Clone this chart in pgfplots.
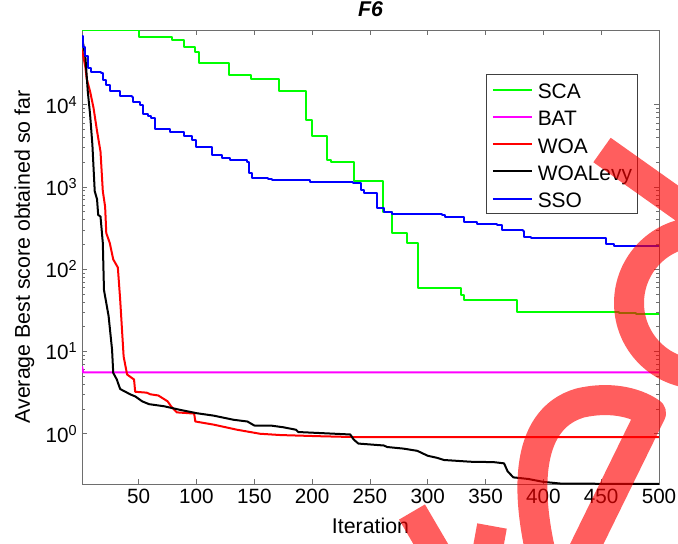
\documentclass[border=0pt]{standalone}
\usepackage{pgfplots}
\pgfplotsset{compat=1.18}
\usepackage{fontspec}
\setmainfont{Liberation Sans}

\definecolor{scacol}{RGB}{0,255,0}
\definecolor{batcol}{RGB}{255,0,255}
\definecolor{woacol}{RGB}{255,0,0}
\definecolor{levycol}{RGB}{0,0,0}
\definecolor{ssocol}{RGB}{0,0,255}
\definecolor{framecol}{RGB}{110,110,110}

% fixed-height legend rows
\newcommand\lentry[1]{\rule[-1.3pt]{0pt}{16.5pt}\smash{#1}}

\begin{document}
\begin{tikzpicture}
% canvas: 1px of the 678x543 layout = 0.75pt, origin at the top left corner
\path[use as bounding box] (0,0) rectangle (508.5pt,-407.25pt);
\begin{axis}[
  at={(61.5pt,-363pt)}, anchor=south west,
  scale only axis, width=432.75pt, height=340.5pt,
  ymode=log,
  xmin=1, xmax=500, ymin=0.245, ymax=81000,
  xtick={50,100,...,500},
  ytick={1,10,100,1000,10000},
  yticklabels={10\textsuperscript{0},10\textsuperscript{1},10\textsuperscript{2},10\textsuperscript{3},10\textsuperscript{4}},
  /pgf/number format/assume math mode=true,
  font=\fontsize{15.5}{18}\selectfont,
  tick label style={font=\fontsize{15.5}{18}\selectfont, black},
  axis line style={framecol},
  every tick/.style={framecol},
  tick align=inside,
  major tick length=3.75pt,
  minor tick length=2.2pt,
  title={F6},
  title style={at={(axis description cs:0.5,1.0293)}, anchor=center, yshift=0pt,
    font=\fontsize{16}{18}\selectfont\bfseries\itshape},
  xlabel={Iteration},
  xlabel style={at={(axis description cs:0.5,-0.0925)}, anchor=center, font=\fontsize{16}{18}\selectfont},
  ylabel={Average Best score obtained so far},
  ylabel style={at={(axis description cs:-0.1,0.5)}, anchor=center, font=\fontsize{16}{18}\selectfont},
  legend cell align=left,
  legend style={at={(rel axis cs:0.9636,0.9031)}, anchor=north east,
    draw=black!75, fill=white, line width=0.6pt,
    font=\fontsize{15.7}{18}\selectfont,
    inner xsep=4.2pt, inner ysep=3pt,
    row sep=3.75pt, column sep=3.45pt,
    nodes={inner sep=0pt}},
  legend image code/.code={\draw[#1,line width=1.5pt] (0pt,0pt) -- (29.5pt,0pt);},
  every axis plot/.append style={line width=1.5pt, line join=round},
]

% SCA
\addplot[scacol, const plot] coordinates {
(1,81000) (50,67000) (79,61700) (89,50700) (99,44200) (102,32400)
(128,23000) (147,20400) (171,14500) (195,6600) (200,4120) (213,2140)
(216,2030) (236,1170) (261,490) (269,279) (282,209) (292,59.3)
(329,49) (331,42.7) (377,30.2) (465,29.8) (472,29.3) (480,28.6) (500,28.6)
};
\addlegendentry{\lentry{SCA}}

% BAT
\addplot[batcol] coordinates {
(1,6.6) (2,5.56) (500,5.56)
};
\addlegendentry{\lentry{BAT}}

% WOA
\addplot[woacol] coordinates {
(1,46800) (4,28200) (5,20900) (8,14500) (11,9100) (14,4800) (17,2690)
(19,890) (21,575) (22,275) (25,209) (28,132) (32,105) (34,43) (37,8.7)
(40,5.25) (46,4.57) (47,3.24) (57,3.16) (60,3.02) (67,2.92) (75,2.48)
(78,2.16) (83,1.82) (98,1.76) (99,1.41) (115,1.29) (135,1.12) (155,1.0)
(173,0.964) (207,0.933) (236,0.912) (500,0.912)
};
\addlegendentry{\lentry{WOA}}

% WOALevy
\addplot[levycol] coordinates {
(1,67600) (4,37000) (6,14500) (8,7600) (10,3240) (12,890) (14,710)
(15,457) (17,437) (19,209) (20,56) (24,27) (27,10.5) (28,5.5) (31,4.6)
(34,3.5) (43,3.0) (47,2.85) (53,2.48) (59,2.29) (72,2.16) (86,1.95)
(100,1.78) (115,1.66) (132,1.48) (144,1.41) (150,1.26) (164,1.26)
(175,1.2) (186,1.12) (188,1.05) (207,1.02) (233,0.98) (236,0.85)
(240,0.76) (262,0.72) (265,0.69) (279,0.66) (291,0.62) (300,0.54)
(308,0.51) (314,0.48) (337,0.457) (357,0.452) (366,0.437) (369,0.351)
(374,0.295) (387,0.282) (400,0.26) (415,0.248) (464,0.246) (500,0.246)
};
\addlegendentry{\lentry{WOALevy}}

% SSO
\addplot[ssocol, const plot] coordinates {
(1,68000) (2,51000) (4,39000) (6,28000) (9,25000) (17,24300) (19,20000)
(22,17400) (25,14800) (32,14500) (34,12600) (44,12300) (45,10700)
(51,10000) (54,7800) (58,7200) (61,6900) (64,5000) (77,4600) (89,4200)
(96,3760) (100,3090) (113,2450) (122,2240) (129,2140) (144,2040)
(145,1480) (148,1290) (162,1260) (165,1230) (196,1200) (198,1160)
(235,1120) (242,930) (245,850) (256,560) (262,500) (269,470) (312,457)
(315,437) (325,431) (331,372) (343,355) (360,347) (364,302) (382,288)
(383,245) (389,240) (452,240) (454,204) (461,190) (500,190)
};
\addlegendentry{\lentry{SSO}}
\end{axis}

% translucent red stamp lying over the lower right corner
\begin{scope}
\clip (0,0) rectangle (508.5pt,-407.25pt);
\begin{scope}[x=0.75pt, y=-0.75pt]
\draw[red, opacity=0.63, line width=22.5pt, line join=round]
  (602,150) -- (760,262)
  (700,303) circle (71)
  (545,570) .. controls (526,500) and (522,420) .. (580,403)
            .. controls (615,395) and (640,405) .. (651,413) -- (574,570)
  (412,512) -- (446,570)
  (492,526) -- (484,570);
\end{scope}
\end{scope}
\end{tikzpicture}
\end{document}
